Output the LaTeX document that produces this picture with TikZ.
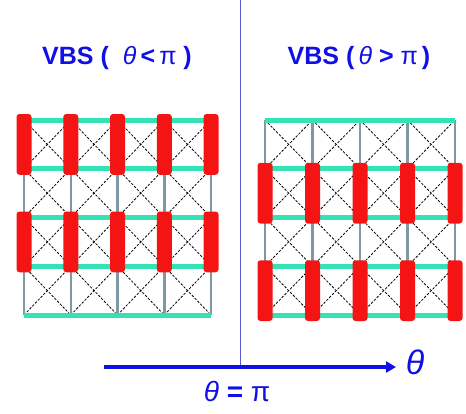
\documentclass[tikz,border=0pt]{standalone}
\usepackage{fontspec}
\setmainfont{Liberation Sans}
\usetikzlibrary{arrows.meta}
\definecolor{vbsblue}{HTML}{1010E6}
\definecolor{divider}{HTML}{5A5AD2}
\definecolor{dimer}{HTML}{F51414}
\definecolor{bondteal}{HTML}{33E3B5}
\definecolor{bondgrey}{HTML}{7F99A3}

\begin{document}
\begin{tikzpicture}[x=1pt,y=-1pt,
    teal bond/.style={bondteal,line width=5pt},
    grey bond/.style={bondgrey,line width=2.5pt},
    cross/.style={black,line width=0.8pt,dash pattern=on 2.5pt off 1.5pt},
    singlet/.style={fill=dimer,rounded corners=3pt},
    vbs title/.style={font=\fontsize{25}{25}\selectfont\bfseries,text=vbsblue,inner sep=0pt}]
  \useasboundingbox (0,0) rectangle (466,413);
  % the two dimer lattices: origin / spacing / first rows of the singlets
  \foreach \ox/\dx/\rA/\rB in {24/46.75/120/217.5, 265/47.5/168.75/266.25} {
    \foreach \i in {0,...,3} \foreach \j in {0,...,3}
      \draw[cross] (\ox+\i*\dx,120+\j*48.75) -- ++(\dx,48.75) ++(-\dx,0) -- ++(\dx,-48.75);
    \foreach \i in {0,...,4}
      \draw[grey bond] (\ox+\i*\dx,120) -- (\ox+\i*\dx,315);
    \foreach \j in {0,...,4}
      \draw[teal bond] (\ox,120+\j*48.75) -- (\ox+4*\dx,120+\j*48.75);
    \foreach \i in {0,...,4} \foreach \r in {\rA,\rB}
      \fill[singlet] (\ox+\i*\dx-7.5,\r-6) rectangle (\ox+\i*\dx+7.5,\r+54.75);
  }
  \node[vbs title] (left title) at (117,58) {VBS ( \;{\mdseries\itshape θ}\,<\,{\mdseries π} )};
  \node[vbs title] (right title) at (359,58) {VBS (\,{\mdseries\itshape θ}\;>\;{\mdseries π}\,)};
  % phase axis
  \coordinate (div top) at (240,0);
  \coordinate (div bottom) at (240,367);
  \coordinate (axis start) at (104,367);
  \coordinate (axis end) at (396,367);
  \draw[divider,line width=1pt] (div top) -- (div bottom);
  \draw[vbsblue,line width=3.5pt,-{Triangle[length=10pt,width=11pt]}] (axis start) -- (axis end);
  \node[text=vbsblue,font=\fontsize{34}{34}\selectfont\itshape] (axis label) at (415,362) {θ};
  \node[text=vbsblue,font=\fontsize{28}{28}\selectfont,inner sep=0pt] (critical) at (237,391) {{\itshape θ} \textbf{=} π};
\end{tikzpicture}
\end{document}
